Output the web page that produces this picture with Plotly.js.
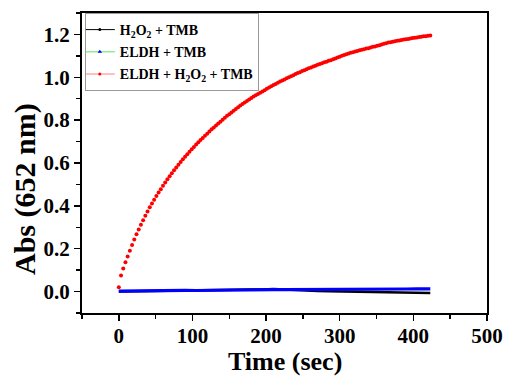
<!DOCTYPE html>
<html>
<head>
<meta charset="utf-8">
<script src="https://cdn.plot.ly/plotly-3.0.1.min.js"></script>
<style>html,body{margin:0;padding:0;background:#fff;}#chart{width:507px;height:376px;}</style>
</head>
<body>
<div id="chart"></div>
<script>
// Series names
var seriesNames = ["H<sub>2</sub>O<sub>2</sub> + TMB", "ELDH + TMB", "ELDH + H<sub>2</sub>O<sub>2</sub> + TMB"];
var xTitle = "Time (sec)";
var yTitle = "Abs (652 nm)";

// ELDH + H2O2 + TMB (sampled every 3 s)
var timeRed = [0,3,6,9,12,15,18,21,24,27,30,33,36,39,42,45,48,51,54,57,60,63,66,69,72,75,78,81,84,87,90,93,96,99,
  102,105,108,111,114,117,120,123,126,129,132,135,138,141,144,147,150,153,156,159,162,165,168,171,174,177,180,183,186,189,192,195,198,
  201,204,207,210,213,216,219,222,225,228,231,234,237,240,243,246,249,252,255,258,261,264,267,270,273,276,279,282,285,288,291,294,297,
  300,303,306,309,312,315,318,321,324,327,330,333,336,339,342,345,348,351,354,357,360,363,366,369,372,375,378,381,384,387,390,393,396,399,
  402,405,408,411,414,417,420,423];
var absRed = [0.020,0.075,0.108,0.137,0.164,0.191,0.217,0.243,0.267,0.290,0.312,0.333,0.354,0.374,0.393,0.411,0.429,0.446,0.462,0.478,
  0.494,0.509,0.524,0.538,0.552,0.566,0.579,0.592,0.605,0.617,0.629,0.641,0.653,0.664,
  0.675,0.686,0.697,0.707,0.717,0.727,0.737,0.747,0.757,0.766,0.775,0.784,0.793,0.802,0.811,0.820,0.828,0.836,0.844,0.852,0.860,0.868,
  0.875,0.882,0.889,0.896,0.903,0.910,0.916,0.922,0.928,0.934,0.940,
  0.946,0.952,0.958,0.964,0.969,0.975,0.980,0.985,0.990,0.995,1.000,1.005,1.010,1.015,1.020,1.024,1.029,1.033,1.037,1.042,1.046,1.050,
  1.054,1.058,1.062,1.066,1.070,1.073,1.077,1.080,1.084,1.088,1.092,
  1.096,1.100,1.104,1.108,1.111,1.114,1.117,1.120,1.123,1.126,1.128,1.131,1.134,1.136,1.139,1.142,1.144,1.147,1.150,1.153,1.156,1.159,
  1.162,1.164,1.166,1.168,1.170,1.172,1.174,1.176,1.178,1.179,1.181,1.183,
  1.184,1.186,1.188,1.189,1.191,1.192,1.194,1.195];

// Controls (read every 15 s)
var timeCtrl = [0,15,30,45,60,75,90,105,120,135,150,165,180,195,210,225,240,255,270,285,300,315,330,345,360,375,390,405,420,423];
var absH2O2 = [0.000,0.001,0.002,0.002,0.003,0.004,0.005,0.005,0.006,0.008,0.010,0.012,0.010,0.010,0.012,0.010,0.007,0.005,0.003,0.002,
  0.001,0.000,0.000,-0.001,-0.001,-0.002,-0.003,-0.004,-0.006,-0.007];
var absELDH = [0.002,0.003,0.003,0.004,0.004,0.005,0.006,0.005,0.006,0.006,0.007,0.007,0.008,0.008,0.009,0.009,0.009,0.010,0.010,0.010,
  0.011,0.011,0.011,0.012,0.012,0.012,0.012,0.013,0.013,0.013];

var xTickVals = [0,100,200,300,400,500];
var yTickVals = [0.0,0.2,0.4,0.6,0.8,1.0,1.2];
var yTickText = ["0.0","0.2","0.4","0.6","0.8","1.0","1.2"];

var serif = "Liberation Serif, Times New Roman, serif";

var traces = [
  {x: timeCtrl, y: absH2O2, mode: "lines", line: {color: "#000000", width: 2.5}, showlegend: false, hoverinfo: "skip"},
  {x: timeCtrl, y: absELDH, mode: "lines", line: {color: "#0000ff", width: 3.2}, showlegend: false, hoverinfo: "skip"},
  {x: timeRed, y: absRed, mode: "markers", marker: {color: "#ff0000", size: 4}, showlegend: false, hoverinfo: "skip"},
  // legend entries
  {x: [null], y: [null], name: seriesNames[0], legendgroup: "a", mode: "lines+markers", line: {color: "#000000", width: 1}, marker: {color: "#000000", size: 3}},
  {x: [null], y: [null], name: seriesNames[1], legendgroup: "b", mode: "lines+markers", line: {color: "#90ee90", width: 1.5}, marker: {color: "#0000ff", size: 4, symbol: "triangle-up"}},
  {x: [null], y: [null], name: seriesNames[2], legendgroup: "c", mode: "lines+markers", line: {color: "#ff8080", width: 1}, marker: {color: "#ff0000", size: 3}}
];

var layout = {
  width: 507, height: 376,
  margin: {l: 82, r: 20, t: 13, b: 63},
  paper_bgcolor: "#ffffff", plot_bgcolor: "#ffffff",
  font: {family: serif, color: "#000000", weight: "bold"},
  showlegend: true,
  legend: {
    x: 0.007, y: 1, xanchor: "left", yanchor: "top",
    bgcolor: "#ffffff", bordercolor: "#999999", borderwidth: 1,
    tracegroupgap: 1, indentation: -6,
    font: {family: serif, size: 14, weight: "bold", color: "#000000"}
  },
  xaxis: {
    range: [-50, 500], tickvals: xTickVals, showgrid: false, zeroline: false,
    showline: true, linecolor: "#000000", linewidth: 2, mirror: true,
    ticks: "outside", ticklen: 6, tickwidth: 1.5, tickcolor: "#000000",
    ticklabelstandoff: -3,
    minor: {dtick: 50, ticks: "outside", ticklen: 4, tickwidth: 1.5, tickcolor: "#000000"},
    tickfont: {family: serif, size: 21, weight: "bold"}
  },
  yaxis: {
    range: [-0.1, 1.3], tickvals: yTickVals, ticktext: yTickText, showgrid: false, zeroline: false,
    showline: true, linecolor: "#000000", linewidth: 2, mirror: true,
    ticks: "outside", ticklen: 6, tickwidth: 1.5, tickcolor: "#000000",
    minor: {dtick: 0.1, ticks: "outside", ticklen: 4, tickwidth: 1.5, tickcolor: "#000000"},
    tickfont: {family: serif, size: 21, weight: "bold"}
  },
  annotations: [
    {
      text: yTitle, xref: "paper", yref: "paper", x: -0.142, y: 0.415,
      xanchor: "center", yanchor: "middle", textangle: -90, showarrow: false,
      font: {family: serif, size: 30, weight: "bold", color: "#000000"}
    },
    {
      text: xTitle, xref: "paper", yref: "paper", x: 0.5, y: -0.162,
      xanchor: "center", yanchor: "middle", showarrow: false,
      font: {family: serif, size: 26, weight: "bold", color: "#000000"}
    }
  ]
};

Plotly.newPlot("chart", traces, layout, {displayModeBar: false, staticPlot: true});
</script>
</body>
</html>
